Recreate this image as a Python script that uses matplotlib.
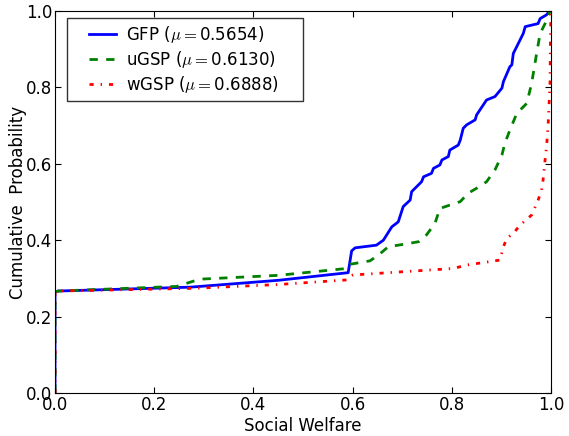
import matplotlib
matplotlib.use("Agg")
import matplotlib.pyplot as plt
from matplotlib.legend_handler import HandlerLine2D
import numpy as np

# GFP
gfp_x = [0.0, 0.0, 0.007, 0.272, 0.45, 0.591, 0.598, 0.605, 0.648, 0.662, 0.679, 0.692,
         0.702, 0.716, 0.719, 0.739, 0.743, 0.759, 0.763, 0.776, 0.780, 0.793, 0.796,
         0.813, 0.817, 0.823, 0.830, 0.847, 0.850, 0.870, 0.887, 0.901, 0.904, 0.917,
         0.921, 0.924, 0.931, 0.944, 0.948, 0.974, 0.978, 0.991, 0.997, 1.0]
gfp_y = [0.0, 0.265, 0.267, 0.277, 0.295, 0.315, 0.372, 0.380, 0.387, 0.400, 0.435, 0.448,
         0.488, 0.505, 0.527, 0.553, 0.566, 0.575, 0.588, 0.597, 0.610, 0.619, 0.636,
         0.649, 0.662, 0.693, 0.702, 0.715, 0.728, 0.767, 0.776, 0.798, 0.815, 0.854,
         0.859, 0.889, 0.907, 0.941, 0.959, 0.967, 0.980, 0.990, 1.0, 1.0]

# uGSP
ugsp_x = [0.0, 0.0, 0.007, 0.245, 0.292, 0.45, 0.588, 0.595, 0.635, 0.652, 0.672, 0.692,
          0.733, 0.749, 0.766, 0.776, 0.796, 0.817, 0.833, 0.850, 0.870, 0.887, 0.901,
          0.907, 0.917, 0.931, 0.951, 0.961, 0.971, 0.978, 0.988, 0.998, 1.0]
ugsp_y = [0.0, 0.265, 0.267, 0.279, 0.298, 0.308, 0.326, 0.337, 0.346, 0.361, 0.383, 0.387,
          0.396, 0.414, 0.444, 0.483, 0.492, 0.501, 0.523, 0.536, 0.553, 0.584, 0.623,
          0.654, 0.688, 0.732, 0.758, 0.811, 0.889, 0.941, 0.967, 0.999, 1.0]

# wGSP
wgsp_x = [0.0, 0.0, 0.007, 0.279, 0.45, 0.588, 0.601, 0.803, 0.830, 0.897, 0.904, 0.911,
          0.924, 0.938, 0.961, 0.974, 0.981, 0.984, 0.988, 0.991, 0.994, 0.998, 0.999, 1.0]
wgsp_y = [0.0, 0.265, 0.267, 0.274, 0.284, 0.296, 0.309, 0.326, 0.335, 0.348, 0.383, 0.405,
          0.418, 0.440, 0.466, 0.505, 0.531, 0.558, 0.610, 0.645, 0.697, 0.811, 0.941, 1.0]

labels = ['GFP ($\\mu=$0.5654)\u2003\u2009', 'uGSP ($\\mu=$0.6130)\u2003\u2009',
          'wGSP ($\\mu=$0.6888)\u2003\u2009']


class ShortLine(HandlerLine2D):
    # draw the legend line only in the right part of the handle box
    def get_xdata(self, legend, xdescent, ydescent, width, height, fontsize):
        x1 = -xdescent + width
        x0 = x1 - 1.6 * fontsize
        xd = np.array([x0, x1])
        return xd, xd


plt.rcParams['font.size'] = 12
plt.rcParams['mathtext.fontset'] = 'cm'
plt.rcParams['lines.scale_dashes'] = False

fig = plt.figure(figsize=(5.69, 4.36), dpi=100)
ax = fig.add_axes([0.0967, 0.0986, 0.8717, 0.8762])

ax.plot(gfp_x, gfp_y, '-', color='blue', linewidth=2, label=labels[0])
ax.plot(ugsp_x, ugsp_y, color='green', linewidth=2, dashes=(6, 6), label=labels[1])
ax.plot(wgsp_x, wgsp_y, color='red', linewidth=2, dashes=(3, 5, 1, 5), label=labels[2])

ax.set_xlim(0, 1)
ax.set_ylim(0, 1)
ax.set_xticks([0.0, 0.2, 0.4, 0.6, 0.8, 1.0])
ax.set_yticks([0.0, 0.2, 0.4, 0.6, 0.8, 1.0])
ax.tick_params(direction='in', top=True, right=True, length=4, labelsize=12, pad=2)
ax.set_xlabel('Social Welfare', labelpad=2)
ax.set_ylabel('Cumulative  Probability', labelpad=-1)

leg = ax.legend(loc='upper left', bbox_to_anchor=(0.024, 0.982), borderaxespad=0,
                fontsize=12, fancybox=False, handlelength=2.6, handletextpad=0.6,
                borderpad=0.35, labelspacing=0.25,
                handler_map={plt.Line2D: ShortLine()})
leg.get_frame().set_edgecolor('black')
leg.get_frame().set_linewidth(1)

fig.savefig('out.png', dpi=100)
